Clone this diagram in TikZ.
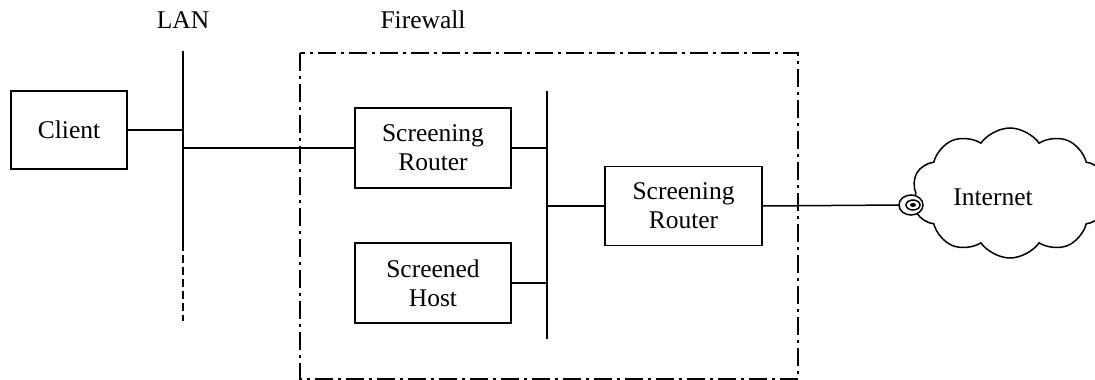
\documentclass[tikz,border=0pt]{standalone}
\usepackage{fontspec}
\setmainfont{Liberation Serif}
\usetikzlibrary{positioning, shapes.symbols}

\begin{document}
\begin{tikzpicture}[x=1pt, y=-1pt, line width=1.5pt,
    font=\fontsize{25.5}{29}\selectfont,
    box/.style={draw, rectangle, inner sep=0pt, align=center, minimum width=156pt, minimum height=80pt},
    fwall/.style={draw, line width=2.4pt, dash pattern=on 18pt off 5pt on 3pt off 5pt},
    lbl/.style={inner sep=0pt}]
        \useasboundingbox (0,0) rectangle (1095,380);

        % Labels
        \node[lbl] (lanlbl) at (183,20) {LAN};
        \node[lbl] (fwlbl) at (423,20) {Firewall};

        % Firewall boundary
        \draw[fwall] (300,53) rectangle (798,379);

        % LAN segment
        \coordinate (lantop) at (183,51);
        \coordinate (lanend) at (183,243);
        \coordinate (lanbot) at (183,321);
        \draw (lantop) -- (lanend);
        \draw[dash pattern=on 8pt off 4pt] (lanend) -- (lanbot);

        % Hosts and routers
        \node[box, minimum width=116pt, minimum height=78pt] (client) at (69,130) {Client};
        \node[box] (sr1) at (433,148) {Screening\\Router};
        \node[box] (host) at (433,283) {Screened\\Host};
        \node[box, minimum width=157pt, minimum height=79pt] (sr2) at (683.5,206) {Screening\\Router};

        % Inner segment
        \coordinate (bustop) at (547,91);
        \coordinate (busbot) at (547,339);
        \draw (bustop) -- (busbot);

        % Internet
        \node[cloud, draw, cloud puffs=10, cloud puff arc=110, aspect=1.45,
            minimum width=196pt, minimum height=130pt, inner sep=0pt] (inet) at (1010,193) {};
        \node[lbl] (inetlbl) at (993,197) {Internet};
        \coordinate (plug) at (911,205);
        \draw[fill=white] (plug) ellipse [x radius=12, y radius=10];
        \draw ([xshift=2]plug) ellipse [x radius=7, y radius=5];
        \fill ([xshift=2]plug) ellipse [x radius=3, y radius=2];

        % Links
        \draw (client.east) -- (client.east -| lantop);
        \draw (lantop |- sr1.west) -- (sr1.west);
        \draw (sr1.east) -- (sr1.east -| bustop);
        \draw (host.east) -- (host.east -| bustop);
        \draw (sr2.west -| bustop) -- (sr2.west);
        \draw (sr2.east) -- ([xshift=-12]plug);
\end{tikzpicture}
\end{document}
